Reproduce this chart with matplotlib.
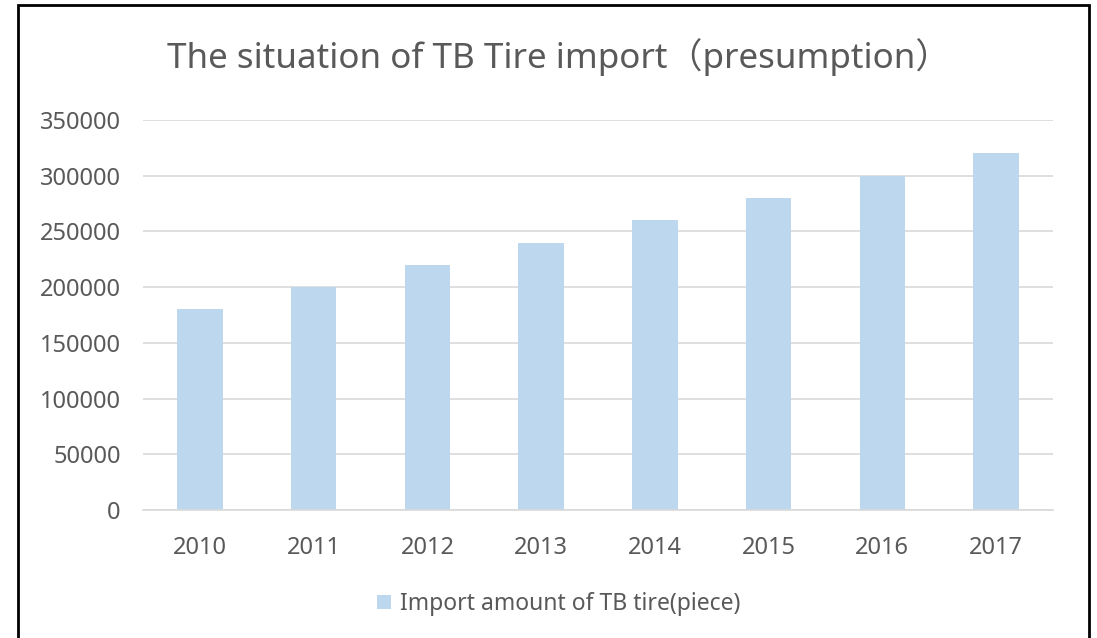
import matplotlib.pyplot as plt
import matplotlib.patches as mpatches
import numpy as np

years = ['2010', '2011', '2012', '2013', '2014', '2015', '2016', '2017']
imports = [180000, 200000, 220000, 240000, 260000, 280000, 300000, 320000]
series_name = 'Import amount of TB tire(piece)'
title = 'The situation of TB Tire import（presumption）'

plt.rcParams['font.family'] = ['Noto Sans', 'Noto Sans CJK JP', 'DejaVu Sans']
text_color = '#595959'
bar_color = '#BDD7EE'
grid_color = '#D9D9D9'

W, H = 1097, 638
fig = plt.figure(figsize=(W / 100, H / 100), dpi=100)
fig.patch.set_facecolor('white')

# plot area in pixels
ax = fig.add_axes([143 / W, 1 - 510 / H, (1053 - 143) / W, (510 - 120) / H])
x = np.arange(len(years))
ax.bar(x, imports, width=0.4, color=bar_color, label=series_name, zorder=2)

ax.set_xlim(-0.5, len(years) - 0.5)
ax.set_ylim(0, 350000)
ax.set_yticks(np.arange(0, 350001, 50000))
ax.set_xticks(x)
ax.set_xticklabels(years)
ax.yaxis.grid(True, color=grid_color, linewidth=1.2, zorder=0)
ax.set_axisbelow(True)
for s in ['top', 'right', 'left']:
    ax.spines[s].set_visible(False)
ax.spines['bottom'].set_color(grid_color)
ax.spines['bottom'].set_linewidth(1.2)
ax.tick_params(axis='both', length=0, labelsize=17, colors=text_color)
ax.tick_params(axis='y', pad=16)
ax.tick_params(axis='x', pad=19)

fig.text(559 / W, 1 - 57 / H, title, ha='center', va='center',
         fontsize=25.2, color=text_color)

leg = fig.legend(loc='center', bbox_to_anchor=(559 / W, 1 - 604 / H),
                 frameon=False, fontsize=16.5, handlelength=0.6, handleheight=0.6,
                 handletextpad=0.4, labelcolor=text_color)

# outer chart frame
frame = mpatches.Rectangle((18 / W, -0.05), (1089 - 18) / W, 1.05 - 5 / H,
                           transform=fig.transFigure, fill=False,
                           edgecolor='black', linewidth=2, clip_on=False)
fig.patches.append(frame)

fig.savefig('out.png', dpi=100)
